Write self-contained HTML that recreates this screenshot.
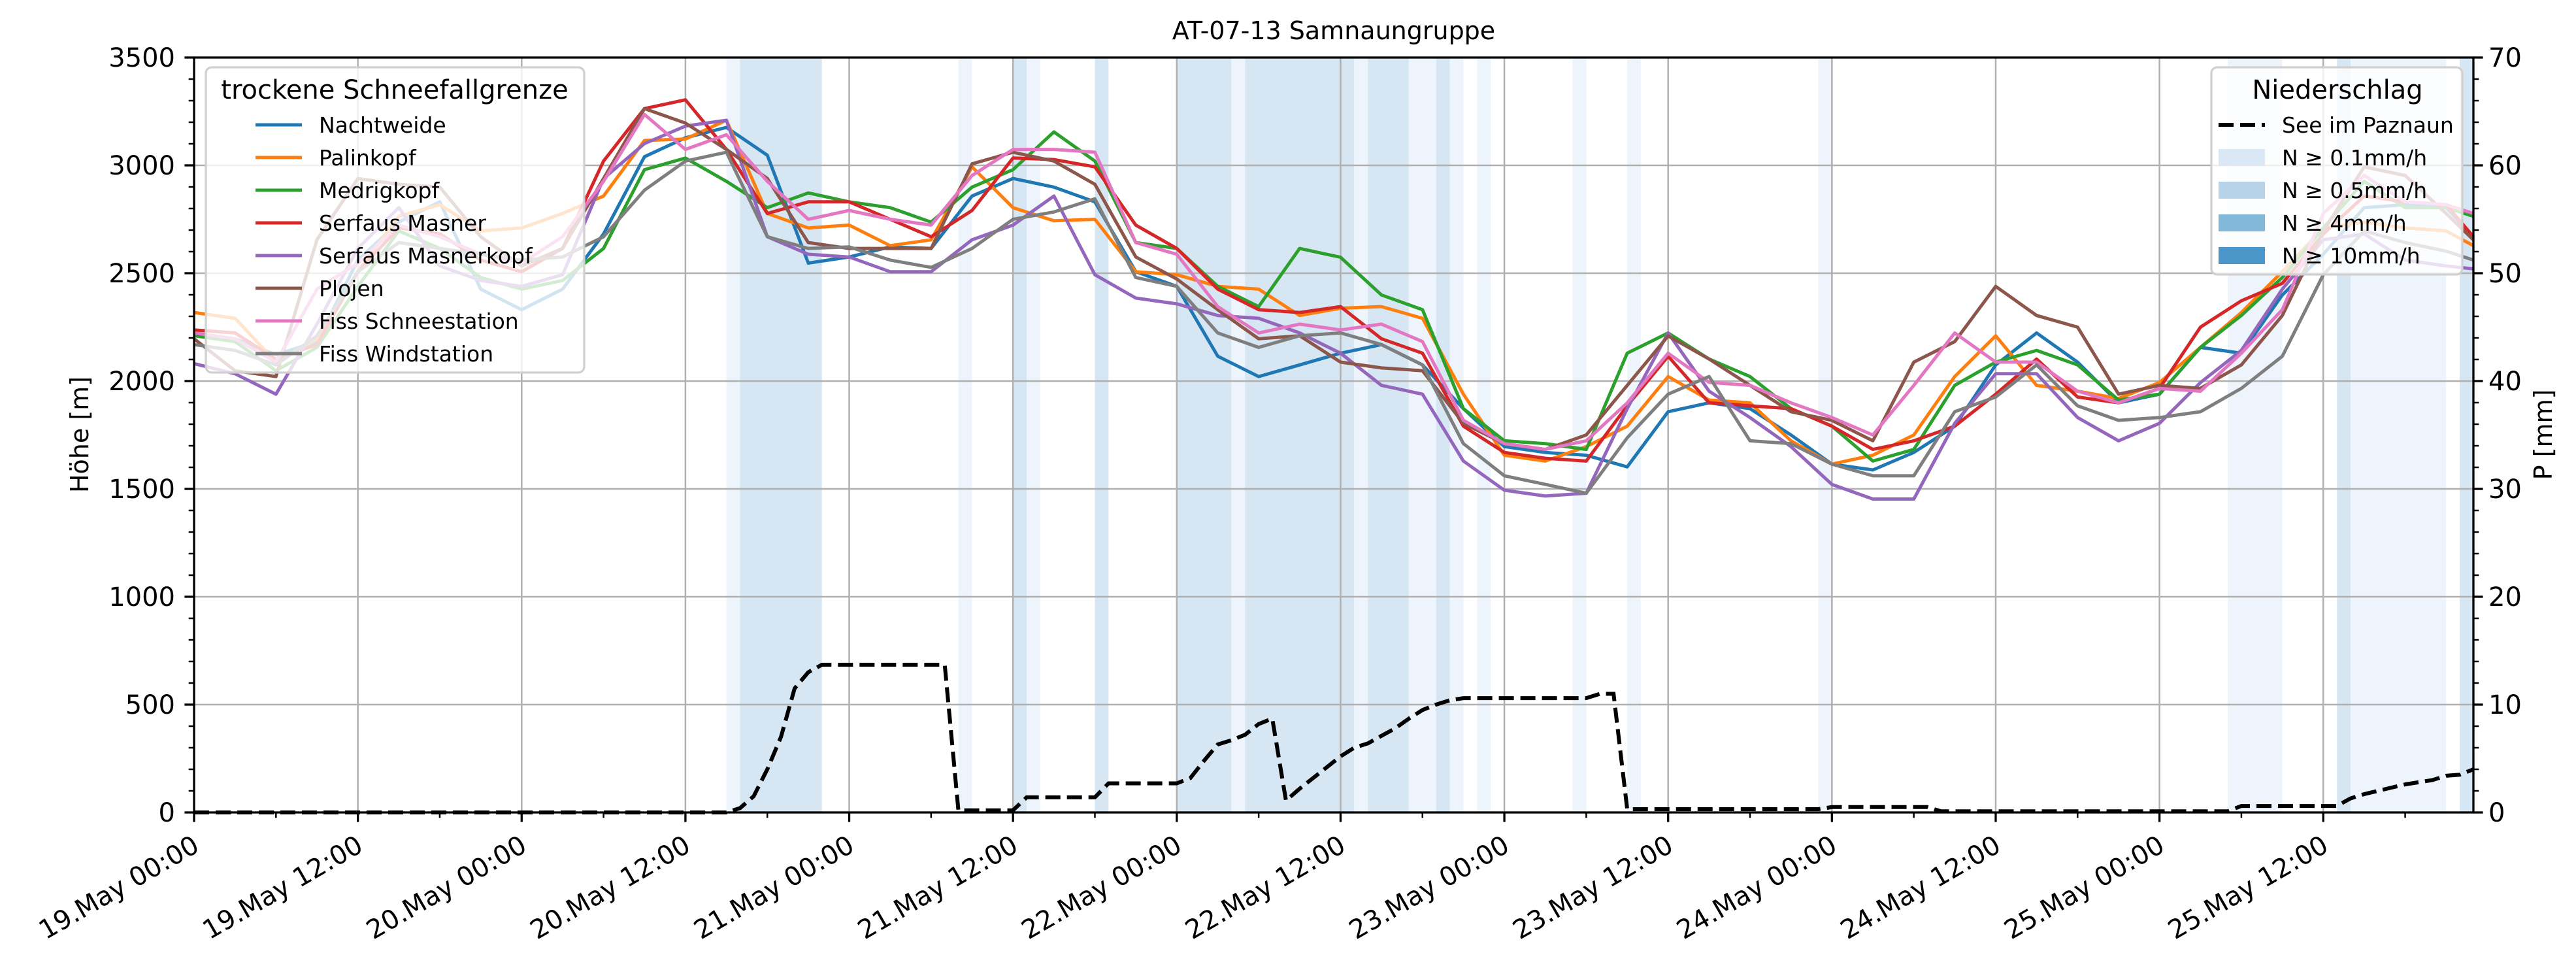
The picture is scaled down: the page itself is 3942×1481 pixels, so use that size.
<!DOCTYPE html>
<html><head><meta charset="utf-8"><style>
html,body{margin:0;padding:0;background:#fff;}
svg{display:block;font-family:"DejaVu Sans","Liberation Sans",sans-serif;}
</style></head><body>
<svg id="chart" width="3942" height="1481" viewBox="0 0 3942 1481" xmlns="http://www.w3.org/2000/svg">
<text x="2041" y="60" font-size="38" text-anchor="middle">AT-07-13 Samnaungruppe</text>
<text transform="translate(135,665) rotate(-90)" font-size="38" text-anchor="middle">Höhe [m]</text>
<text transform="translate(3905,665) rotate(-90)" font-size="38" text-anchor="middle">P [mm]</text>
</svg>
<script>
// ---- data ----
const hours = [0,3,6,9,12,15,18,21,24,27,30,33,36,39,42,45,48,51,54,57,60,63,66,69,72,75,78,81,84,87,90,93,96,99,102,105,108,111,114,117,120,123,126,129,132,135,138,141,144,147,150,153,156,159,162,165,167];
const seriesNames = ["Nachtweide","Palinkopf","Medrigkopf","Serfaus Masner","Serfaus Masnerkopf","Plojen","Fiss Schneestation","Fiss Windstation"];
const nachtweide = [2223,2196,2122,2183,2561,2737,2831,2426,2331,2426,2682,3040,3128,3176,3047,2547,2575,2622,2615,2858,2939,2899,2831,2507,2439,2115,2021,2075,2129,2169,2075,1872,1696,1669,1656,1602,1858,1899,1872,1750,1615,1588,1669,1791,2075,2223,2088,1899,1939,2156,2129,2399,2588,2804,2818,2804,2669];
const palinkopf = [2318,2291,2088,2196,2507,2764,2818,2696,2710,2777,2858,3115,3122,3209,2777,2710,2723,2628,2655,2993,2804,2743,2750,2507,2493,2439,2426,2304,2338,2345,2291,1939,1656,1629,1696,1791,2021,1912,1899,1723,1615,1656,1750,2021,2210,1980,1953,1919,1993,2156,2318,2507,2710,2737,2710,2696,2628];
const medrigkopf = [2210,2183,2048,2156,2439,2696,2615,2480,2426,2466,2615,2980,3034,2926,2804,2872,2831,2804,2737,2899,2980,3155,3020,2642,2615,2439,2345,2615,2574,2399,2331,1872,1723,1710,1683,2129,2223,2102,2021,1872,1791,1629,1683,1980,2088,2142,2075,1912,1939,2156,2304,2480,2710,2926,2804,2804,2764];
const serfausMasner = [2237,2223,2101,2169,2507,2710,2682,2561,2507,2615,3020,3263,3304,3074,2777,2831,2831,2750,2669,2791,3034,3027,2993,2723,2615,2426,2331,2318,2345,2196,2129,1791,1669,1642,1629,1885,2115,1899,1885,1872,1791,1683,1723,1791,1939,2102,1926,1899,1966,2250,2372,2453,2682,2858,2831,2818,2669];
const serfausMasnerkopf = [2081,2034,1939,2264,2615,2804,2534,2466,2439,2493,2939,3101,3182,3209,2669,2588,2575,2507,2507,2655,2723,2858,2493,2385,2358,2304,2291,2223,2129,1980,1939,1629,1494,1467,1480,1872,2223,1953,1831,1696,1521,1453,1453,1804,2034,2034,1831,1723,1804,1993,2142,2426,2655,2682,2561,2534,2520];
const plojen = [2196,2048,2021,2655,2939,2912,2899,2669,2534,2615,2939,3263,3196,3074,2939,2642,2615,2615,2615,3007,3061,3020,2912,2575,2473,2331,2196,2210,2088,2061,2048,1804,1710,1683,1750,1980,2209,2102,1980,1858,1818,1723,2088,2183,2439,2304,2250,1939,1980,1966,2075,2304,2696,2993,2953,2777,2655];
const fissSchnee = [2223,2196,2088,2426,2547,2723,2669,2588,2547,2669,2926,3236,3074,3142,2926,2750,2791,2750,2723,2953,3074,3074,3061,2642,2588,2345,2223,2264,2237,2264,2183,1818,1710,1683,1723,1899,2129,1994,1980,1899,1831,1750,1980,2223,2088,2088,1953,1899,1966,1953,2129,2331,2777,2953,2831,2818,2777];
const fissWind = [2169,2142,2075,2210,2507,2642,2615,2588,2561,2575,2669,2885,3020,3061,2669,2615,2622,2561,2527,2615,2750,2784,2845,2480,2439,2223,2156,2210,2223,2169,2075,1710,1561,1521,1480,1737,1939,2021,1723,1710,1615,1561,1561,1858,1926,2075,1885,1818,1831,1858,1966,2115,2493,2696,2642,2602,2561];
const precipHours = [0,39,40,41,42,43,44,45,46,55,56,60,61,66,67,72,73,74,75,76,77,78,79,80,81,82,83,84,85,86,87,88,89,90,91,92,93,102,103,104,105,119,120,127,128,149,150,157,158,159,160,161,162,163,164,165,166,167];
const precipValues = [0,0,0.4,1.5,4,7,11.5,13,13.7,13.7,0.2,0.2,1.4,1.4,2.7,2.7,3.2,4.8,6.3,6.7,7.2,8.2,8.7,1.1,2.2,3.2,4.2,5.2,6.0,6.4,7.1,7.8,8.7,9.5,10.0,10.4,10.6,10.6,11.0,11.0,0.3,0.3,0.5,0.5,0.1,0.1,0.6,0.6,1.3,1.7,2.0,2.3,2.6,2.8,3.0,3.4,3.5,4.0];
const bandStart = [39,40,56,60,61,66,72,76,77,84,85,86,89,91,92,94,101,105,119,149,157,158,166];
const bandEnd   = [40,46,57,61,62,67,76,77,84,85,86,89,91,92,93,95,102,106,120,153,158,165,167];
const bandLevel = [0,1,0,1,0,1,1,0,1,1,0,1,0,1,0,0,0,0,0,0,1,0,1];
const xTickLabels = ["19.May 00:00","19.May 12:00","20.May 00:00","20.May 12:00","21.May 00:00","21.May 12:00","22.May 00:00","22.May 12:00","23.May 00:00","23.May 12:00","24.May 00:00","24.May 12:00","25.May 00:00","25.May 12:00"];
const yTicks = [0,500,1000,1500,2000,2500,3000,3500];
const y2Ticks = [0,10,20,30,40,50,60,70];

const allSeries = [nachtweide,palinkopf,medrigkopf,serfausMasner,serfausMasnerkopf,plojen,fissSchnee,fissWind];
const colors = ["#1f77b4","#ff7f0e","#2ca02c","#d62728","#9467bd","#8c564b","#e377c2","#7f7f7f"];

// ---- geometry ----
const L=297,R=3785,T=88,B=1243,XMAX=167;
const xs = h => L + h/XMAX*(R-L);
const ys = v => B - v/3500*(B-T);
const y2 = p => B - p/70*(B-T);
const svg = document.getElementById('chart');
const NS='http://www.w3.org/2000/svg';
function mk(tag, attrs, parent){const e=document.createElementNS(NS,tag);for(const k in attrs)e.setAttribute(k,attrs[k]);(parent||svg).appendChild(e);return e;}

// bands
const bandCols=["#eef4fb","#d7e6f3"];
for(let i=0;i<bandStart.length;i++){
  const r=mk('rect',{x:xs(bandStart[i]),y:T,width:xs(bandEnd[i])-xs(bandStart[i]),height:B-T,fill:bandCols[bandLevel[i]]});
  
  
}
// grid
for(let i=0;i<xTickLabels.length;i++){
  const g=mk('line',{x1:xs(i*12),x2:xs(i*12),y1:T,y2:B,stroke:'#b0b0b0','stroke-width':2.5});
  
  
}
for(const v of yTicks){
  const g=mk('line',{x1:L,x2:R,y1:ys(v),y2:ys(v),stroke:'#b0b0b0','stroke-width':2.5});
  
  
}
// series
for(let s=0;s<allSeries.length;s++){
  const d=allSeries[s].map((v,i)=>(i?'L':'M')+xs(hours[i]).toFixed(1)+','+ys(v).toFixed(1)).join(' ');
  const p=mk('path',{d:d,fill:'none',stroke:colors[s],'stroke-width':5,'stroke-linejoin':'round'});
  
  
}
// precip dashed
{
  const d=precipHours.map((h,i)=>(i?'L':'M')+xs(h).toFixed(1)+','+y2(precipValues[i]).toFixed(1)).join(' ');
  const p=mk('path',{d:d,fill:'none',stroke:'#000','stroke-width':6,'stroke-dasharray':'23,10'});
  
  
}
// spines
const fr=mk('rect',{x:L,y:T,width:R-L,height:B-T,fill:'none',stroke:'#000','stroke-width':3.3});


// ticks
for(let h=0;h<=XMAX;h+=6){
  const major=h%12===0;
  mk('line',{x1:xs(h),x2:xs(h),y1:B,y2:B+(major?14.6:8.3),stroke:'#000','stroke-width':major?3.3:2.5});
}
for(let v=0;v<=3500;v+=100){
  const major=v%500===0;
  mk('line',{x1:L,x2:L-(major?14.6:8.3),y1:ys(v),y2:ys(v),stroke:'#000','stroke-width':major?3.3:2.5});
}
for(let p=0;p<=70;p+=2){
  const major=p%10===0;
  mk('line',{x1:R,x2:R+(major?14.6:8.3),y1:y2(p),y2:y2(p),stroke:'#000','stroke-width':major?3.3:2.5});
}
for(const v of yTicks){
  const t=mk('text',{x:268,y:ys(v)+14,'font-size':40,'text-anchor':'end'});t.textContent=v;
  
  
}
for(const p of y2Ticks){
  const t=mk('text',{x:3808,y:y2(p)+14,'font-size':40,'text-anchor':'start'});t.textContent=p;
  
  
}
for(let i=0;i<xTickLabels.length;i++){
  const x=xs(i*12)-4,y=1276;
  const t=mk('text',{x:x,y:y,'font-size':40,'text-anchor':'end','dominant-baseline':'hanging',transform:`rotate(-30 ${x} ${y})`});
  t.textContent=xTickLabels[i];
  
  
}
// legend 1
{
  const g=mk('g',{});
  
  
  mk('rect',{x:315,y:103,width:579,height:467,rx:9,fill:'rgba(255,255,255,0.8)',stroke:'#d0d0d0','stroke-width':3.3},g);
  const tt=mk('text',{x:604,y:151,'font-size':40,'text-anchor':'middle'},g);tt.textContent='trockene Schneefallgrenze';
  for(let s=0;s<seriesNames.length;s++){
    const y=191+s*50;
    const e=mk('g',{},g);
    
    
    mk('line',{x1:391,x2:462,y1:y,y2:y,stroke:colors[s],'stroke-width':5},e);
    const t=mk('text',{x:488,y:y+12,'font-size':33},e);t.textContent=seriesNames[s];
  }
}
// legend 2
{
  const g=mk('g',{});
  
  
  mk('rect',{x:3384,y:103,width:384,height:317,rx:9,fill:'rgba(255,255,255,0.8)',stroke:'#d0d0d0','stroke-width':3.3},g);
  const tt=mk('text',{x:3577,y:151,'font-size':40,'text-anchor':'middle'},g);tt.textContent='Niederschlag';
  const e0=mk('g',{},g);
  
  
  mk('line',{x1:3395,x2:3466,y1:191,y2:191,stroke:'#000','stroke-width':6,'stroke-dasharray':'23,10'},e0);
  const t0=mk('text',{x:3492,y:203,'font-size':33},e0);t0.textContent='See im Paznaun';
  const labs=['N ≥ 0.1mm/h','N ≥ 0.5mm/h','N ≥ 4mm/h','N ≥ 10mm/h'];
  const pc=['#d9e8f4','#b7d3e9','#82b8d9','#4b97c9'];
  for(let i=0;i<4;i++){
    const y=241+i*50;
    const e=mk('g',{},g);
    
    
    mk('rect',{x:3395,y:y-13,width:71,height:26,fill:pc[i]},e);
    const t=mk('text',{x:3492,y:y+12,'font-size':33},e);t.textContent=labs[i];
  }
}
</script>
</body></html>
